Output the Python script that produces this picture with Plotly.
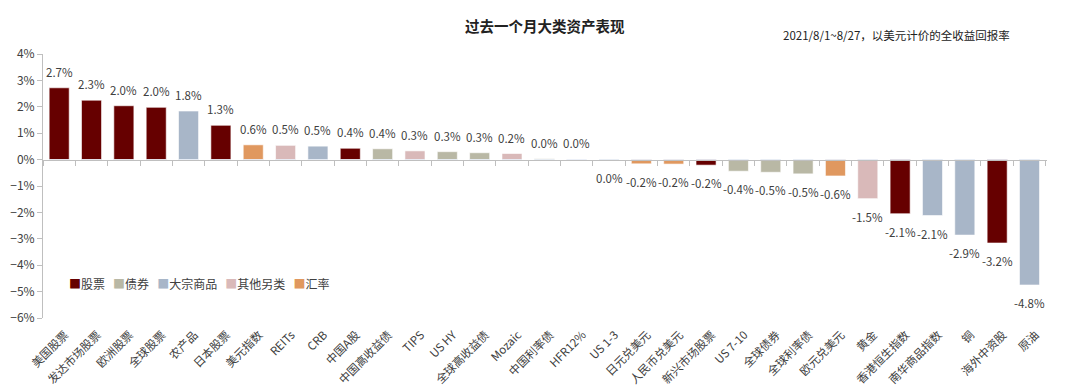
import plotly.graph_objects as go

categories = ["美国股票", "发达市场股票", "欧洲股票", "全球股票", "农产品", "日本股票", "美元指数",
              "REITs", "CRB", "中国A股", "中国高收益债", "TIPS", "US HY", "全球高收益债", "Mozaic",
              "中国利率债", "HFR12%", "US 1-3", "日元兑美元", "人民币兑美元", "新兴市场股票", "US 7-10",
              "全球债券", "全球利率债", "欧元兑美元", "黄金", "香港恒生指数", "南华商品指数", "铜",
              "海外中资股", "原油"]
values = [2.72, 2.25, 2.04, 1.98, 1.84, 1.30, 0.56, 0.54, 0.51, 0.43, 0.41, 0.33, 0.30, 0.26, 0.23,
          0.03, 0.01, -0.03, -0.16, -0.17, -0.21, -0.44, -0.48, -0.54, -0.62, -1.48, -2.05, -2.12, -2.86,
          -3.16, -4.75]
labels = ["2.7%", "2.3%", "2.0%", "2.0%", "1.8%", "1.3%", "0.6%", "0.5%", "0.5%", "0.4%", "0.4%",
          "0.3%", "0.3%", "0.3%", "0.2%", "0.0%", "0.0%", "0.0%", "-0.2%", "-0.2%", "-0.2%", "-0.4%",
          "-0.5%", "-0.5%", "-0.6%", "-1.5%", "-2.1%", "-2.1%", "-2.9%", "-3.2%", "-4.8%"]
groups = ["股票", "股票", "股票", "股票", "大宗商品", "股票", "汇率", "其他另类", "大宗商品", "股票",
          "债券", "其他另类", "债券", "债券", "其他另类", "债券", "其他另类", "债券", "汇率", "汇率",
          "股票", "债券", "债券", "债券", "汇率", "其他另类", "股票", "大宗商品", "大宗商品", "股票",
          "大宗商品"]
group_order = ["股票", "债券", "大宗商品", "其他另类", "汇率"]
group_colors = {"股票": "#660000", "债券": "#B9B8A5", "大宗商品": "#A8B6C8",
                "其他另类": "#D9B9B9", "汇率": "#E0985F"}

FONT = "Noto Sans CJK SC, Microsoft YaHei, sans-serif"
TXT = "#404040"

fig = go.Figure()
for g in group_order:
    xs = [c for c, gg in zip(categories, groups) if gg == g]
    ys = [v for v, gg in zip(values, groups) if gg == g]
    fig.add_trace(go.Bar(x=xs, y=ys, name=g, showlegend=False,
                         marker=dict(color=group_colors[g],
                                     line=dict(color="rgba(255,255,255,0.6)", width=1))))

# invisible trace to activate xaxis2 (zero-line axis with boundary ticks)
fig.add_trace(go.Bar(x=categories, y=[0] * len(categories), xaxis="x2", showlegend=False,
                     hoverinfo="skip", marker=dict(color="rgba(0,0,0,0)")))

for c, v, t in zip(categories, values, labels):
    fig.add_annotation(x=c, y=v, text=t, showarrow=False, yshift=16 if v >= 0 else -18,
                       font=dict(size=11.5, color=TXT, family=FONT))

# legend built as text
legend_text = "   ".join(
    f'<span style="color:{group_colors[g]}">■</span>{g}' for g in group_order)
fig.add_annotation(x=0.024, y=0.13, xref="paper", yref="paper", xanchor="left", yanchor="middle",
                   text=legend_text, showarrow=False,
                   font=dict(size=12, color=TXT, family=FONT))

fig.add_annotation(x=0.5, y=1.0, xref="paper", yref="paper", yanchor="bottom", yshift=16,
                   text="<b>过去一个月大类资产表现</b>", showarrow=False,
                   font=dict(size=14.5, color="#222222", family=FONT))
fig.add_annotation(x=1.0, y=1.0, xref="paper", yref="paper", xanchor="right", yanchor="bottom",
                   xshift=-35, yshift=9,
                   text="2021/8/1~8/27，以美元计价的全收益回报率", showarrow=False,
                   font=dict(size=11.5, color="#222222", family=FONT))

fig.update_layout(
    width=1080, height=386,
    margin=dict(l=35, r=41, t=46, b=76, autoexpand=False),
    paper_bgcolor="white", plot_bgcolor="white",
    barmode="relative", bargap=0.38,
    showlegend=False,
    xaxis=dict(categoryorder="array", categoryarray=categories, tickangle=-45,
               showline=False, ticks="", showgrid=False, zeroline=False,
               ticklabelstandoff=7, ticklabelshift=6,
               tickfont=dict(size=11.5, color=TXT, family=FONT)),
    xaxis2=dict(overlaying="x", anchor="free", position=0.6, side="bottom",
                categoryorder="array", categoryarray=categories, matches="x",
                showline=True, linecolor="#BFBFBF", linewidth=1,
                ticks="outside", ticklen=5, tickcolor="#BFBFBF", tickson="boundaries",
                showticklabels=False, showgrid=False, zeroline=False),
    yaxis=dict(range=[-6, 4], dtick=1, ticksuffix="%", showgrid=False,
               showline=True, linecolor="#BFBFBF", linewidth=1,
               ticks="outside", ticklen=5, tickcolor="#BFBFBF",
               zeroline=False, domain=[0, 1],
               tickfont=dict(size=12, color=TXT, family=FONT)),
)

fig.write_html("out.html")
